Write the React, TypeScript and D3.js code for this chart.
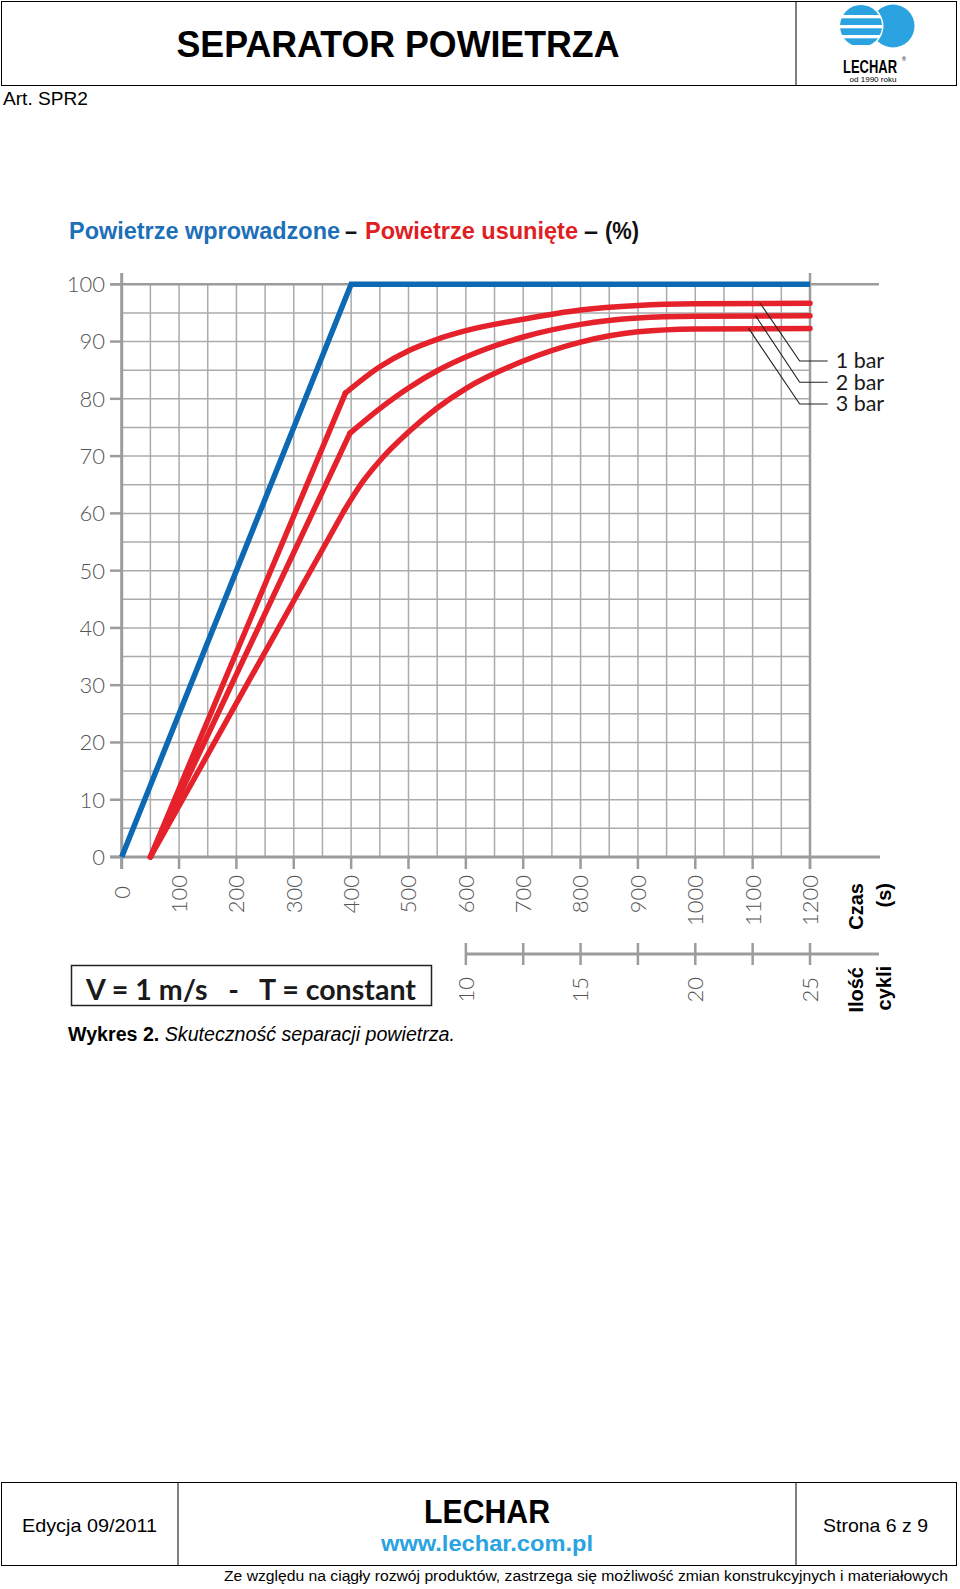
import * as d3 from 'd3'

// time axis (s) and separation (%)
const timeTicks = [0, 100, 200, 300, 400, 500, 600, 700, 800, 900, 1000, 1100, 1200]
const percentTicks = [0, 10, 20, 30, 40, 50, 60, 70, 80, 90, 100]
const cycleTicks = [10, 12.5, 15, 17.5, 20, 22.5, 25]
const cycleLabels = [10, 15, 20, 25]

// air introduced
const introduced: [number, number][] = [[0, 0], [400, 100], [1200, 100]]

// air removed, per pressure: rising part, then the saturating part
const bar1: [number, number][] = [[50, 0], [390, 81], [450, 85.6], [500, 88.4], [550, 90.4], [600, 91.9], [700, 93.9], [800, 95.5], [900, 96.3], [1000, 96.6], [1200, 96.7]]
const bar2: [number, number][] = [[50, 0], [398, 74], [450, 78.3], [500, 81.9], [550, 84.9], [600, 87.3], [700, 90.8], [800, 93.0], [900, 94.1], [1000, 94.4], [1200, 94.5]]
const bar3: [number, number][] = [[50, 0], [388, 60.5], [420, 65.5], [450, 69.2], [500, 74.2], [550, 78.4], [600, 81.8], [700, 86.6], [800, 89.9], [900, 91.7], [1000, 92.2], [1200, 92.3]]
const removedSeries = [bar1, bar2, bar3]

// leader lines for the pressure labels: start time on curve, elbow (time, %)
const barLabels = ['1 bar', '2 bar', '3 bar']
const leaderStart = [1113, 1105, 1093]
const leaderElbow: [number, number][] = [[1182, 86.6], [1182, 82.9], [1182, 79.1]]

// title pieces: text, colour, left edge, width
const titleParts: [string, string, number, number][] = [
  ['Powietrze wprowadzone', '#1c6fb8', 69, 271],
  ['–', '#111', 345, 12],
  ['Powietrze usunięte', '#e0201f', 365, 213],
  ['–', '#111', 584, 14],
  ['(%)', '#111', 605, 34],
]

const BLUE = '#0d69b4'
const RED = '#e5222b'
const GRID = '#ababab'
const AXIS = '#9c9c9c'
const LABEL = '#555'
const CYAN = '#2aa3e0'

export default function App() {
  const x = d3.scaleLinear().domain([0, 1200]).range([121.7, 810])
  const y = d3.scaleLinear().domain([0, 100]).range([857, 284.3])
  const xc = d3.scaleLinear().domain([10, 25]).range([x(600), x(1200)])

  const straight = d3.line<[number, number]>().x(d => x(d[0])).y(d => y(d[1]))
  const smooth = d3.line<[number, number]>().x(d => x(d[0])).y(d => y(d[1])).curve(d3.curveMonotoneX)

  const vGrid = d3.range(50, 1200, 50)
  const hGrid = d3.range(5, 100, 5)
  const tickFont = "Lato, 'Open Sans', sans-serif"

  return (
    <svg width={960} height={1589} style={{ position: 'absolute', left: 0, top: 0, background: '#fff' }}
      fontFamily="'Liberation Sans', Arial, sans-serif">
      <rect width={960} height={1589} fill="#fff" />

      {/* page header */}
      <rect x={1.5} y={1.5} width={955} height={84} fill="none" stroke="#000" strokeWidth={1} />
      <line x1={796} x2={796} y1={1.5} y2={85.5} stroke="#000" />
      <text x={398} y={57} textAnchor="middle" fontSize={36} fontWeight="bold" textLength={443} lengthAdjust="spacingAndGlyphs">SEPARATOR POWIETRZA</text>
      <text x={3} y={105} fontSize={19} textLength={85} lengthAdjust="spacingAndGlyphs">Art. SPR2</text>

      {/* logo */}
      <defs>
        <clipPath id="logo-left">
          <circle cx={861} cy={26} r={21} />
        </clipPath>
      </defs>
      <circle cx={893} cy={26} r={21.5} fill={CYAN} />
      <circle cx={861} cy={26} r={22.5} fill="#fff" />
      <g clipPath="url(#logo-left)" fill={CYAN}>
        {[5, 18.3, 28.3, 38.3].map((t, i) => (
          <rect key={i} x={835} y={t} width={60} height={i === 0 ? 10 : 6.7} />
        ))}
      </g>
      <text x={870} y={72.5} textAnchor="middle" fontSize={18} fontWeight="bold" textLength={54} lengthAdjust="spacingAndGlyphs">LECHAR</text>
      <text x={902} y={61} fontSize={5.5}>®</text>
      <text x={873} y={81.5} textAnchor="middle" fontSize={7.5} textLength={47} lengthAdjust="spacingAndGlyphs">od 1990 roku</text>

      {/* chart title */}
      <g fontSize={24} fontWeight="bold">
        {titleParts.map(([t, c, x0, w]) => (
          <text key={x0} x={x0} y={239} fill={c} textLength={w} lengthAdjust="spacingAndGlyphs">{t}</text>
        ))}
      </g>

      {/* grid */}
      {vGrid.map(t => (
        <line key={'v' + t} x1={x(t)} x2={x(t)} y1={y(0)} y2={y(100)} stroke={GRID} strokeWidth={1.5} />
      ))}
      {hGrid.map(v => (
        <line key={'h' + v} x1={x(0)} x2={x(1200)} y1={y(v)} y2={y(v)} stroke={GRID} strokeWidth={1.5} />
      ))}

      {/* axes */}
      <line x1={x(0)} x2={x(0)} y1={273} y2={869} stroke={AXIS} strokeWidth={3} />
      <line x1={x(1200)} x2={x(1200)} y1={273} y2={869} stroke={AXIS} strokeWidth={2.5} />
      <line x1={110} x2={879} y1={y(100)} y2={y(100)} stroke={AXIS} strokeWidth={2.5} />
      <line x1={110} x2={880} y1={y(0)} y2={y(0)} stroke={AXIS} strokeWidth={3} />
      {percentTicks.map(v => (
        <g key={'yt' + v}>
          <line x1={110} x2={x(0)} y1={y(v)} y2={y(v)} stroke={AXIS} strokeWidth={2.5} />
          <text x={105} y={y(v)} dy="0.36em" textAnchor="end" fontSize={22} fontWeight={300}
            fontFamily={tickFont} fill={LABEL}>{v}</text>
        </g>
      ))}
      {timeTicks.map(t => (
        <g key={'xt' + t}>
          <line x1={x(t)} x2={x(t)} y1={y(0)} y2={869} stroke={AXIS} strokeWidth={2.5} />
          <text transform={`translate(${x(t)},${t === 0 ? 886 : 875}) rotate(-90)`} dy="0.36em" textAnchor="end"
            fontSize={22} fontWeight={300} fontFamily={tickFont} fill={LABEL}>{t}</text>
        </g>
      ))}

      {/* cycles axis */}
      <line x1={xc(10)} x2={879} y1={954} y2={954} stroke={AXIS} strokeWidth={3} />
      {cycleTicks.map(c => (
        <line key={'ct' + c} x1={xc(c)} x2={xc(c)} y1={943} y2={965} stroke={AXIS} strokeWidth={2.5} />
      ))}
      {cycleLabels.map(c => (
        <text key={'cl' + c} transform={`translate(${xc(c)},977) rotate(-90)`} dy="0.36em" textAnchor="end"
          fontSize={22} fontWeight={300} fontFamily={tickFont} fill={LABEL}>{c}</text>
      ))}

      {/* axis titles */}
      <g fontSize={20} fontWeight="bold" fill="#000">
        <text transform="translate(856,883) rotate(-90)" dy="0.36em" textAnchor="end">Czas</text>
        <text transform="translate(884,883) rotate(-90)" dy="0.36em" textAnchor="end">(s)</text>
        <text transform="translate(856,967) rotate(-90)" dy="0.36em" textAnchor="end">Ilość</text>
        <text transform="translate(884,966) rotate(-90)" dy="0.36em" textAnchor="end">cykli</text>
      </g>

      {/* series */}
      <path d={straight(introduced) ?? ''} fill="none" stroke={BLUE} strokeWidth={5.5} strokeLinejoin="miter" />
      {removedSeries.map((s, i) => (
        <g key={'r' + i} fill="none" stroke={RED} strokeWidth={5.5} strokeLinecap="round" strokeLinejoin="round">
          <path d={straight(s.slice(0, 2)) ?? ''} />
          <path d={smooth(s.slice(1)) ?? ''} />
        </g>
      ))}

      {/* pressure labels */}
      {barLabels.map((lab, i) => {
        const s = removedSeries[i]
        const v0 = s[s.length - 1][1]
        const ex = x(leaderElbow[i][0])
        const ey = y(leaderElbow[i][1])
        return (
          <g key={lab}>
            <polyline points={`${x(leaderStart[i])},${y(v0)} ${ex},${ey} ${ex + 28},${ey}`}
              fill="none" stroke="#222" strokeWidth={1.1} />
            <text x={ex + 36} y={ey} dy="0.34em" fontSize={21.5} fontFamily={tickFont} fill="#1a1a1a">{lab}</text>
          </g>
        )
      })}

      {/* conditions box */}
      <rect x={71.5} y={965.5} width={360} height={40} fill="none" stroke="#222" strokeWidth={1.5} />
      <text x={86} y={1000} fontSize={29} fontWeight="bold" fontFamily={tickFont} fill="#1a1a1a"
        textLength={330} lengthAdjust="spacingAndGlyphs" xmlSpace="preserve">V = 1 m/s   -   T = constant</text>

      {/* caption */}
      <text x={68} y={1041} fontSize={19.5} textLength={387} lengthAdjust="spacingAndGlyphs">
        <tspan fontWeight="bold">Wykres 2.</tspan>
        <tspan fontStyle="italic"> Skuteczność separacji powietrza.</tspan>
      </text>

      {/* page footer */}
      <rect x={1.5} y={1482.5} width={955} height={83} fill="none" stroke="#000" />
      <line x1={178} x2={178} y1={1482.5} y2={1565.5} stroke="#000" />
      <line x1={796} x2={796} y1={1482.5} y2={1565.5} stroke="#000" />
      <text x={22} y={1532} fontSize={19} textLength={135} lengthAdjust="spacingAndGlyphs">Edycja 09/2011</text>
      <text x={487} y={1523} textAnchor="middle" fontSize={33} fontWeight="bold" textLength={126} lengthAdjust="spacingAndGlyphs">LECHAR</text>
      <text x={487} y={1551} textAnchor="middle" fontSize={22} fontWeight="bold" fill={CYAN} textLength={212} lengthAdjust="spacingAndGlyphs">www.lechar.com.pl</text>
      <text x={823} y={1532} fontSize={19} textLength={105} lengthAdjust="spacingAndGlyphs">Strona 6 z 9</text>
      <text x={224} y={1581} fontSize={15.5} textLength={724} lengthAdjust="spacingAndGlyphs">Ze względu na ciągły rozwój produktów, zastrzega się możliwość zmian konstrukcyjnych i materiałowych</text>
    </svg>
  )
}
